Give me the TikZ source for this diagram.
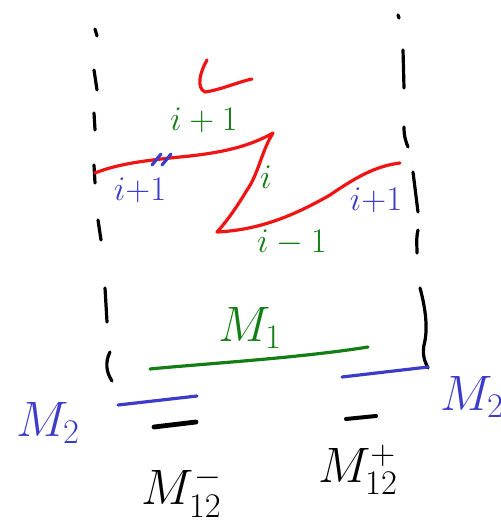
\documentclass[tikz,border=0pt]{standalone}
\definecolor{hred}{RGB}{240,20,20}
\definecolor{hgreen}{RGB}{20,125,20}
\definecolor{hblue}{RGB}{60,60,200}
\begin{document}
\begin{tikzpicture}[x=0.5pt,y=-0.5pt,line cap=round,line join=round,
  ink/.style={line width=1.6pt},
  bink/.style={ink,black},
  rink/.style={ink,hred},
  gink/.style={ink,hgreen},
  blink/.style={ink,hblue},
  glab/.style={text=hgreen,font=\fontsize{17}{19}\selectfont},
  blab/.style={text=hblue,font=\fontsize{17}{19}\selectfont},
  mlab/.style={font=\fontsize{26}{28}\selectfont}]
\useasboundingbox (0,0) rectangle (501,528);
% left dashed border
\draw[bink] (95,29) -- (97,36);
\draw[bink] (94,70) -- (97,90);
\draw[bink] (94,113) -- (95,130);
\draw[bink] (94,165) -- (95,183);
\draw[bink] (98,220) -- (101,240);
\draw[bink] (105,288) -- (107,322);
\draw[bink] (110,352) .. controls (105,362) and (106,372) .. (112,381);
% right dashed border
\draw[bink] (398,15) -- (399,18);
\draw[bink] (403,50) -- (404,88);
\draw[bink] (404,127) .. controls (404,137) and (406,142) .. (408,147);
\draw[bink] (413,172) -- (418,212);
\draw[bink] (418,230) .. controls (416,238) and (417,246) .. (417,253);
\draw[bink] (420,288) .. controls (426,310) and (428,330) .. (424,345) .. controls (422,355) and (425,362) .. (428,368);
% red L
\draw[rink] (207,60) .. controls (200,72) and (196,88) .. (205,92) .. controls (220,90) and (238,82) .. (252,79);
% red zigzag curve
\draw[rink] (95,173) .. controls (120,163) and (150,160) .. (190,156)
  .. controls (225,152) and (250,146) .. (273,133)
  .. controls (262,150) and (258,175) .. (247,190)
  .. controls (238,205) and (228,220) .. (217,232)
  .. controls (260,230) and (295,215) .. (330,195)
  .. controls (355,178) and (375,166) .. (400,163);
% blue double tick
\draw[blink] (152,165) -- (161,154);
\draw[blink] (162,165) -- (171,154);
% labels on the curve
\node[glab] (lip) at (204,120) {$i + 1$};
\node[glab] (li) at (266,177) {$i$};
\node[glab] (lim) at (292,243) {$i - 1$};
\node[blab] (lbl) at (140,190) {$i{+}1$};
\node[blab] (lbr) at (376,200) {$i{+}1$};
% green M1 line
\draw[gink] (150,369) .. controls (200,364) and (300,358) .. (368,347);
\node[mlab,text=hgreen] (m1) at (250,328) {$M_1$};
% blue M2 lines
\draw[blink] (118,405) -- (197,396);
\draw[blink] (342,377) -- (428,367);
\node[mlab,text=hblue] (m2l) at (48,423) {$M_2$};
\node[mlab,text=hblue] (m2r) at (472,397) {$M_2$};
% black short dashes
\draw[black,line width=2.4pt] (154,427) -- (196,422);
\draw[black,line width=2pt] (346,419) -- (376,416);
\node[mlab] (m12m) at (182,492) {$M_{12}^{-}$};
\node[mlab] (m12p) at (358,470) {$M_{12}^{+}$};
\end{tikzpicture}
\end{document}
